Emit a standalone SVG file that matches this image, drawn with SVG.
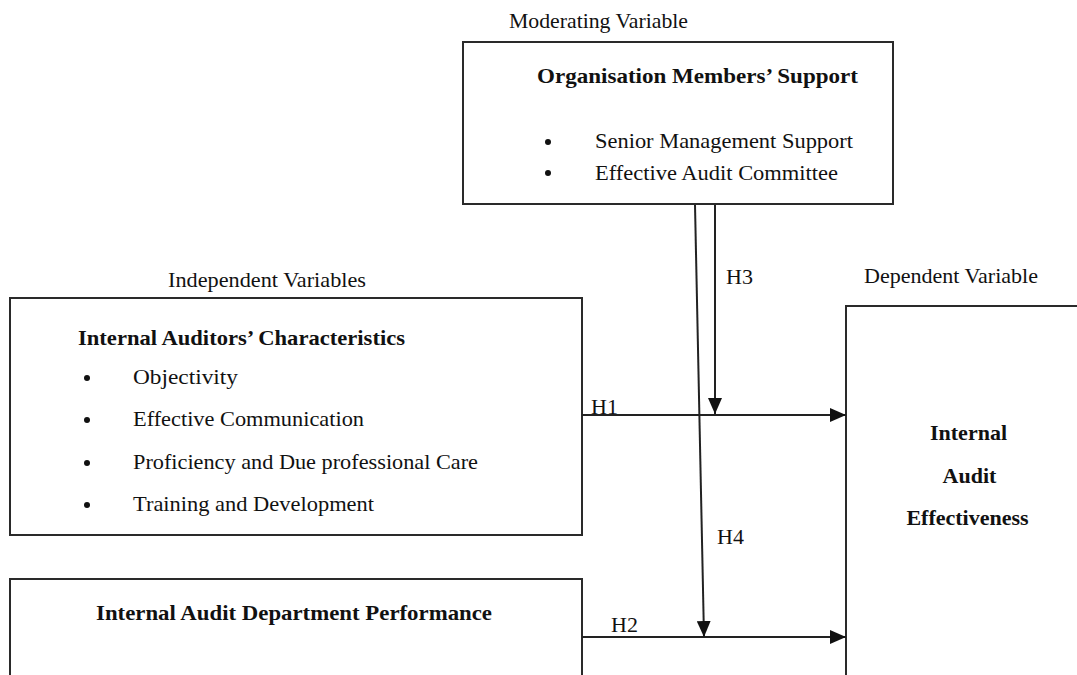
<svg xmlns="http://www.w3.org/2000/svg" width="1077" height="675" viewBox="0 0 1077 675">
<style>
.box{fill:#fff;stroke:#2a2a2a;stroke-width:2}
.t{font-family:"Liberation Serif","Times New Roman",serif;font-size:22px;fill:#111}
.b{font-family:"Liberation Serif","Times New Roman",serif;font-size:22px;font-weight:bold;fill:#111}
.lbl{font-family:"Liberation Serif","Times New Roman",serif;font-size:21px;fill:#111}
.ln{stroke:#222;stroke-width:2;fill:none}
.dot{fill:#111}
</style>
<defs>
<marker id="ah" viewBox="0 0 16 14" refX="16" refY="7" markerWidth="16" markerHeight="14" markerUnits="userSpaceOnUse" orient="auto">
<path d="M0,0 L16,7 L0,14 Z" fill="#111"/>
</marker>
</defs>
<rect width="1077" height="675" fill="#fff"/>

<g id="moderating">
<text class="lbl" x="509" y="28" textLength="179" lengthAdjust="spacingAndGlyphs">Moderating Variable</text>
<rect class="box" x="463" y="42" width="430" height="162"/>
<text class="b" x="537" y="83" textLength="321" lengthAdjust="spacingAndGlyphs">Organisation Members’ Support</text>
<circle class="dot" cx="548" cy="142" r="3"/>
<text class="t" x="595" y="148" textLength="258" lengthAdjust="spacingAndGlyphs">Senior Management Support</text>
<circle class="dot" cx="548" cy="173" r="3"/>
<text class="t" x="595" y="180" textLength="243" lengthAdjust="spacingAndGlyphs">Effective Audit Committee</text>
</g>

<g id="independent">
<text class="lbl" x="168" y="287" textLength="198" lengthAdjust="spacingAndGlyphs">Independent Variables</text>
<rect class="box" x="10" y="298" width="572" height="237"/>
<text class="b" x="78" y="345" textLength="327" lengthAdjust="spacingAndGlyphs">Internal Auditors’ Characteristics</text>
<circle class="dot" cx="87" cy="378" r="3"/>
<text class="t" x="133" y="384" textLength="105" lengthAdjust="spacingAndGlyphs">Objectivity</text>
<circle class="dot" cx="87" cy="420" r="3"/>
<text class="t" x="133" y="426" textLength="231" lengthAdjust="spacingAndGlyphs">Effective Communication</text>
<circle class="dot" cx="87" cy="463" r="3"/>
<text class="t" x="133" y="469" textLength="345" lengthAdjust="spacingAndGlyphs">Proficiency and Due professional Care</text>
<circle class="dot" cx="87" cy="505" r="3"/>
<text class="t" x="133" y="511" textLength="241" lengthAdjust="spacingAndGlyphs">Training and Development</text>
</g>

<g id="department">
<rect class="box" x="10" y="579" width="572" height="110"/>
<text class="b" x="96" y="620" textLength="396" lengthAdjust="spacingAndGlyphs">Internal Audit Department Performance</text>
</g>

<g id="dependent">
<text class="lbl" x="864" y="283" textLength="174" lengthAdjust="spacingAndGlyphs">Dependent Variable</text>
<rect class="box" x="846" y="306" width="250" height="400"/>
<text class="b" x="968.5" y="440" text-anchor="middle">Internal</text>
<text class="b" x="969.5" y="483" text-anchor="middle">Audit</text>
<text class="b" x="967.5" y="525" text-anchor="middle">Effectiveness</text>
</g>

<g id="connectors">
<line class="ln" x1="582" y1="415" x2="846" y2="415" marker-end="url(#ah)"/>
<line class="ln" x1="582" y1="637" x2="846" y2="637" marker-end="url(#ah)"/>
<line class="ln" x1="715" y1="205" x2="715" y2="414" marker-end="url(#ah)"/>
<line class="ln" x1="695" y1="205" x2="704" y2="637" marker-end="url(#ah)"/>
<text class="t" x="726" y="284">H3</text>
<text class="t" x="591" y="414">H1</text>
<text class="t" x="717" y="544">H4</text>
<text class="t" x="611" y="632">H2</text>
</g>
</svg>
